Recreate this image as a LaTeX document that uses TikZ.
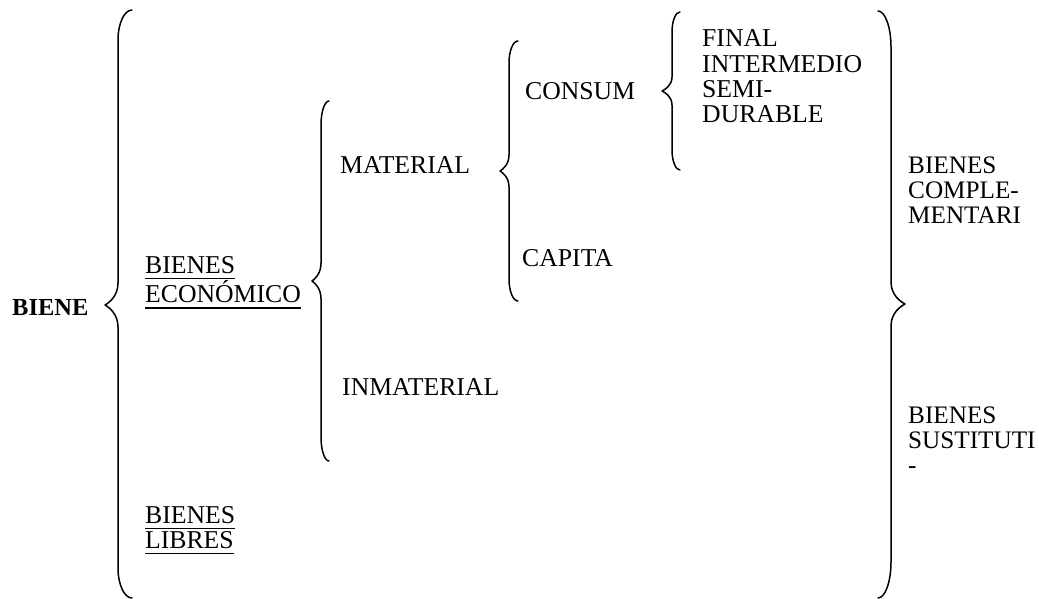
\documentclass[tikz,border=0pt]{standalone}
\usepackage{fontspec}
\setmainfont{Liberation Serif}

% underlined word with a rule a little below the baseline
\newcommand{\ulw}[1]{\leavevmode\setbox0\hbox{#1}\rlap{\rule[-6pt]{\wd0}{1.4pt}}\box0}
% stacked lines, baseline on the first line
\newcommand{\stack}[1]{\begin{tabular}[t]{@{}l@{}}#1\end{tabular}}

% curly brace: #1 stem x, #2 end x, #3 tip x, #4 top y, #5 tip y, #6 bottom y,
% #7 length of the end curls, #8 length of the tip curves
\newcommand{\drawcurl}[8]{%
  \draw[bracestroke] (#2,#4) .. controls ({#2+0.55*(#1-#2)},#4) and (#1,{#4+0.45*#7}) .. (#1,{#4+#7})
    -- (#1,{#5-#8}) .. controls (#1,{#5-0.4*#8}) and ({#3+0.3*(#1-#3)},{#5-0.1*#8}) .. (#3,#5)
    .. controls ({#3+0.3*(#1-#3)},{#5+0.1*#8}) and (#1,{#5+0.4*#8}) .. (#1,{#5+#8})
    -- (#1,{#6-#7}) .. controls (#1,{#6-0.45*#7}) and ({#2+0.55*(#1-#2)},#6) .. (#2,#6);}

\begin{document}
\begin{tikzpicture}[x=1pt,y=-1pt,
  txt/.style={anchor=base west,inner sep=0pt,font=\fontsize{25.7}{25.3}\selectfont},
  side/.style={txt,font=\fontsize{25.2}{25.3}\selectfont},
  bracestroke/.style={line width=1.5pt,line cap=round,line join=round}]
\fill[white] (0,0) rectangle (1039,599);
\useasboundingbox (0,0) rectangle (1039,599);

% labels
\node[txt,font=\fontsize{24.5}{25.3}\selectfont\bfseries] (biene) at (12,315) {BIENE};
\node[txt] (economico) at (145,273) {\stack{\ulw{BIENES}\\ \ulw{ECONÓMICO}}};
\node[txt] (libres) at (145,523) {\stack{\ulw{BIENES}\\ \ulw{LIBRES}}};
\node[txt] (material) at (340,173) {MATERIAL};
\node[txt] (inmaterial) at (342,395) {INMATERIAL};
\node[txt] (consum) at (525,100) {CONSUM};
\node[txt] (capita) at (522,266) {CAPITA};
\node[txt] (tipos) at (702,47) {\stack{FINAL\\ INTERMEDIO\\ SEMI-\\ DURABLE}};
\node[side] (complem) at (908,173) {\stack{BIENES\\ COMPLE-\\ MENTARI}};
\node[side] (sustit) at (908,423) {\stack{BIENES\\ SUSTITUTI\\ -}};

% braces
\drawcurl{118}{132}{105}{10}{305}{598}{30}{22}
\drawcurl{321}{329}{312}{101}{281}{461}{24}{18}
\drawcurl{509}{518}{500}{41}{171}{301}{22}{16}
\drawcurl{672}{680}{662}{12}{91}{170}{20}{14}
\drawcurl{891}{878}{905}{11}{304}{598}{36}{22}
\end{tikzpicture}
\end{document}
